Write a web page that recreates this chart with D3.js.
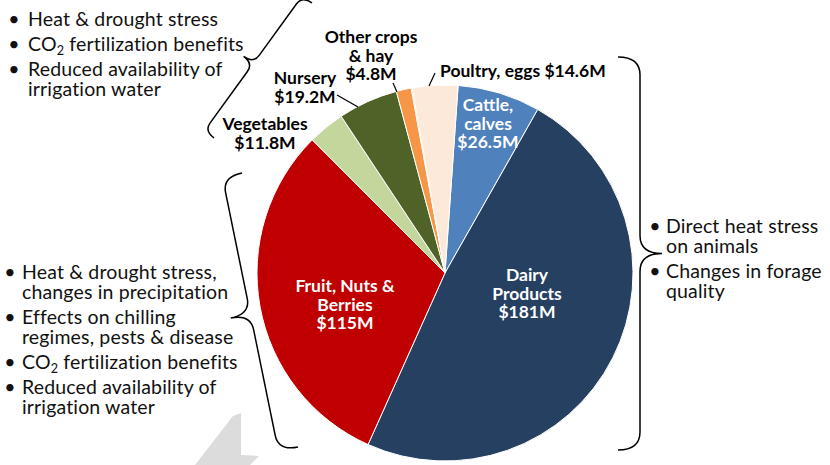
<!doctype html>
<html lang="en">
<head>
<meta charset="utf-8">
<script src="https://cdn.jsdelivr.net/npm/d3@7"></script>
<style>
  body { margin: 0; background: #fff; }
  svg { display: block; font-family: Lato, "Open Sans", sans-serif; }
</style>
</head>
<body>
<div id="viz"></div>
<script>
// farm sales by commodity ($M), clockwise from 12 o'clock
const categories = ["Cattle, calves", "Dairy Products", "Fruit, Nuts & Berries", "Vegetables",
                    "Nursery", "Other crops & hay", "Other", "Poultry, eggs"];
const values = [26.5, 181, 115, 11.8, 19.2, 4.8, 0.3, 14.6];
const labelLines = [["Cattle,", "calves", "$26.5M"], ["Dairy", "Products", "$181M"],
                    ["Fruit, Nuts &", "Berries", "$115M"], ["Vegetables", "$11.8M"],
                    ["Nursery", "$19.2M"], ["Other crops", "& hay", "$4.8M"], [],
                    ["Poultry, eggs $14.6M"]];
const colors = ["#4f81bd", "#264061", "#c00000", "#c3d69b", "#4f6228", "#f79646", "#333333", "#fde9d9"];

// climate impact notes
const notesCrops = [["Heat & drought stress"], ["CO2 fertilization benefits"],
                    ["Reduced availability of", "irrigation water"]];
const notesFruit = [["Heat & drought stress,", "changes in precipitation"],
                    ["Effects on chilling", "regimes, pests & disease"],
                    ["CO2 fertilization benefits"],
                    ["Reduced availability of", "irrigation water"]];
const notesAnimals = [["Direct heat stress", "on animals"], ["Changes in forage", "quality"]];

const width = 830, height = 465;
const cx = 445, cy = 273, radius = 188;
const startDeg = 4;

// label placement: [x, y of first line centre, anchor, inside?]
const labelPos = [[488, 105, "middle", true], [527, 275, "middle", true], [345, 286, "middle", true],
                  [265, 124, "middle", false], [305, 78, "middle", false], [371, 37, "middle", false],
                  null, [440, 71, "start", false]];
const leaders = [null, null, null, null, [[337, 95], [358, 107]], [[393, 83], [397, 92]],
                 null, [[435, 73], [429, 86]]];

const svg = d3.select("#viz").append("svg")
    .attr("width", width).attr("height", height)
    .attr("viewBox", [0, 0, width, height]);

// faint grey arrow in the background, bottom left
svg.append("path")
    .attr("d", "M195,465 L233,416 L241,413 L241,455 L259,456 L250,465 Z")
    .attr("fill", "#dcdcdc");

const pie = d3.pie().sort(null).value(d => d)
    .startAngle(startDeg * Math.PI / 180)
    .endAngle(startDeg * Math.PI / 180 + 2 * Math.PI);
const arc = d3.arc().innerRadius(0).outerRadius(radius);

const g = svg.append("g").attr("transform", `translate(${cx},${cy})`);
g.selectAll("path")
    .data(pie(values))
    .join("path")
    .attr("d", arc)
    .attr("fill", (d, i) => colors[i])
    .attr("stroke", "#fff")
    .attr("stroke-width", 1);

// leader lines
svg.append("g").selectAll("line")
    .data(leaders.filter(d => d))
    .join("line")
    .attr("x1", d => d[0][0]).attr("y1", d => d[0][1])
    .attr("x2", d => d[1][0]).attr("y2", d => d[1][1])
    .attr("stroke", "#000").attr("stroke-width", 1.2);

// slice labels
const lh = 18.5;
labelLines.forEach((lines, i) => {
    const p = labelPos[i];
    if (!p) return;
    const t = svg.append("text")
        .attr("text-anchor", p[2])
        .attr("font-weight", "bold")
        .attr("font-size", 17.5)
        .attr("fill", p[3] ? "#fff" : "#000");
    lines.forEach((s, j) => {
        t.append("tspan").attr("x", p[0]).attr("y", p[1] + j * lh + 6).text(s);
    });
});

// bullet lists
function writeText(sel, s) {
    const k = s.indexOf("CO2");
    if (k < 0) { sel.text(s); return; }
    sel.append("tspan").text(s.slice(0, k + 2));
    sel.append("tspan").attr("font-size", "0.65em").attr("dy", 4).text("2");
    sel.append("tspan").attr("dy", -4).text(s.slice(k + 3));
}

function bullets(notes, xb, xt, y0, fs) {
    const grp = svg.append("g").attr("font-size", fs).attr("fill", "#111")
        .attr("letter-spacing", 0.15);
    let y = y0;
    notes.forEach(item => {
        grp.append("text").attr("x", xb).attr("y", y).attr("text-anchor", "middle").text("•");
        item.forEach((s, j) => {
            writeText(grp.append("text").attr("x", xt).attr("y", y + j * 20), s);
        });
        y += (item.length - 1) * 20 + 25;
    });
}

bullets(notesCrops, 14, 28, 26, 19.5);
bullets(notesFruit, 10, 22, 279, 19.5);
bullets(notesAnimals, 655, 666, 233, 19.5);

// curly braces
function brace(p1, p2, h, r) {
    const L = Math.hypot(p2[0] - p1[0], p2[1] - p1[1]);
    const a = Math.atan2(p2[1] - p1[1], p2[0] - p1[0]) * 180 / Math.PI;
    const m = L / 2;
    const d = `M0,0 Q0,${h} ${r},${h} L${m - r},${h} Q${m},${h} ${m},${2 * h}
               Q${m},${h} ${m + r},${h} L${L - r},${h} Q${L},${h} ${L},0`;
    svg.append("path")
        .attr("d", d)
        .attr("transform", `translate(${p1[0]},${p1[1]}) rotate(${a})`)
        .attr("fill", "none")
        .attr("stroke", "#000")
        .attr("stroke-width", 1.5);
}

brace([312, 3], [214, 138], 12, 10);
brace([242, 173], [298, 447], 20, 16);
brace([618, 57], [618, 450], -22, 18);
</script>
</body>
</html>
